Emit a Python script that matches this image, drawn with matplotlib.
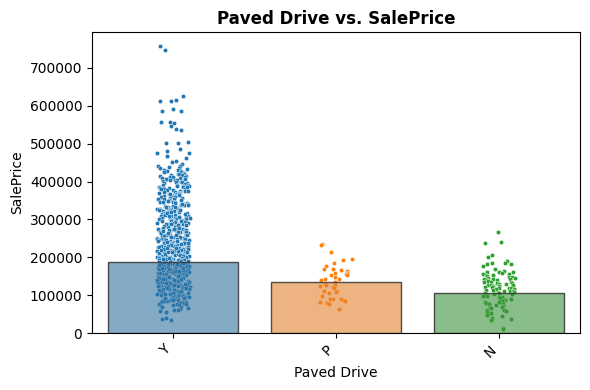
import colorsys
import numpy as np
import matplotlib
matplotlib.use("Agg")
import matplotlib.pyplot as plt
import matplotlib.colors as mcolors

# categories and bar heights (mean SalePrice)
categories = ['Y', 'P', 'N']
bar_means = [187500, 134000, 105700]

# individual sale prices, in thousands
price_y = [
    757, 747, 627, 616, 613, 612, 592, 586, 585, 558, 556, 554, 547, 540, 536,
    504, 503, 502, 487, 481, 476, 475, 468, 467, 462, 455, 452, 446, 441, 440, 439, 437,
    435, 434, 431, 430, 428, 427, 426, 424, 423, 421, 420, 419, 418, 416, 415,
    414, 413, 412, 411, 410, 409, 408, 407, 406, 405, 404, 403, 402, 401, 400,
    399, 398, 396, 395, 394, 392, 391, 390, 389, 388, 387, 386, 385, 384, 383,
    382, 381, 380, 379, 378, 377, 376, 375, 374, 373, 372, 371, 370, 369, 368,
    367, 366, 365, 364, 363, 362, 361, 360, 359, 358, 357, 356, 355, 354, 353,
    352, 351, 350, 385, 367,
    349, 348, 347, 346, 345, 344, 343, 342, 341, 340, 339, 338, 337, 336, 335,
    334, 333, 332, 331, 330, 329, 328, 327, 326, 325, 324, 323, 322, 321, 320,
    319, 318, 317, 316, 315, 314, 313, 312, 311, 310, 309, 308, 307, 306, 305,
    304, 303, 302, 301, 300, 345, 341, 337, 332, 328, 324, 319, 315, 311, 306,
    302, 334, 326, 317, 308,
    299, 298, 297, 296, 295, 294, 293, 292, 291, 290, 289, 288, 287, 286, 285,
    284, 283, 282, 281, 280, 279, 278, 277, 276, 275, 274, 273, 272, 271, 270,
    269, 268, 267, 266, 265, 264, 263, 262, 261, 260, 259, 258, 257, 256, 255,
    254, 253, 252, 251, 250, 298, 295, 292, 289, 286, 283, 280, 277, 274, 271,
    268, 265, 262, 259, 256, 253, 251, 296, 290, 284, 278, 272, 266, 260, 254,
    276, 264, 288, 258, 270,
    249, 248, 247, 246, 245, 244, 243, 242, 241, 240, 239, 238, 237, 236, 235,
    234, 233, 232, 231, 230, 229, 228, 227, 226, 225, 224, 223, 222, 221, 220,
    219, 218, 217, 216, 215, 214, 213, 212, 211, 210, 209, 208, 207, 206, 205,
    204, 203, 202, 201, 200, 248, 246, 243, 241, 238, 236, 233, 231, 228, 226,
    223, 221, 218, 216, 213, 211, 208, 206, 203, 201, 247, 242, 237, 232, 227,
    222, 217, 212, 207, 202, 245, 235, 225, 215, 205, 240, 230, 220, 210, 244,
    234, 224, 214, 204, 239,
    199, 198, 197, 196, 195, 194, 193, 192, 191, 190, 189, 188, 187, 186, 185,
    184, 183, 182, 181, 180, 179, 178, 177, 176, 175, 174, 173, 172, 171, 170,
    169, 168, 167, 166, 165, 164, 163, 162, 161, 160, 159, 158, 157, 156, 155,
    154, 153, 152, 151, 150, 198, 196, 193, 191, 188, 186, 183, 181, 178, 176,
    173, 171, 168, 166, 163, 161, 158, 156, 153, 151, 197, 192, 187, 182, 177,
    172, 167, 162, 157, 152, 195, 185, 175, 165, 155, 190, 180, 170, 160, 194,
    184, 174, 164, 154, 189, 179, 169, 159, 199, 171, 163, 176, 158, 186, 181,
    149, 148, 147, 146, 145, 144, 143, 142, 141, 140, 139, 138, 137, 136, 135,
    134, 133, 132, 131, 130, 129, 128, 127, 126, 125, 124, 123, 122, 121, 120,
    119, 118, 117, 116, 115, 114, 113, 112, 111, 110, 109, 108, 107, 106, 105,
    104, 103, 102, 101, 100, 148, 146, 143, 141, 138, 136, 133, 131, 128, 126,
    123, 121, 118, 116, 113, 111, 108, 106, 103, 101, 147, 142, 137, 132, 127,
    122, 117, 112, 107, 102, 145, 135, 125, 115, 139, 129, 119, 144, 134, 124,
    114, 140, 130, 120, 110,
    99, 98, 97, 96, 95, 94, 93, 92, 91, 90, 89, 88, 87, 86, 85, 84, 83, 82,
    81, 80, 79, 78, 77, 76, 75, 74, 72, 70, 68, 66, 64, 62, 60, 92, 86,
    58, 55, 40, 38, 35,
]
price_p = [235, 232, 215, 196, 194, 185, 178, 170, 168, 167, 163, 159, 158, 155,
           154, 152, 149, 143, 142, 139, 134, 129, 128, 126, 124, 122, 118, 111,
           110, 109, 107, 99, 91, 90, 89, 86, 84, 81, 79, 77, 63]
price_n = [266, 240, 238, 207, 201, 190, 185, 184, 183, 181, 176, 170, 165, 162,
           161, 160, 159, 157, 155, 153, 152, 150, 149, 147, 146, 145, 144, 143,
           142, 140, 139, 138, 137, 136, 135, 134, 133, 131, 130, 129, 128, 127,
           126, 125, 124, 123, 122, 121, 120, 119, 118, 117, 116, 115, 114, 113,
           112, 111, 110, 109, 108, 106, 105, 104, 102, 100, 98, 97, 95, 94, 92,
           90, 88, 87, 85, 83, 82, 80, 78, 76, 75, 72, 70, 68, 65, 62, 60, 57,
           55, 52, 48, 45, 40, 38, 35, 13, 12]

palette = ['#1f77b4', '#ff7f0e', '#2ca02c']


def desaturate(c, prop):
    r, g, b = mcolors.to_rgb(c)
    h, l, s = colorsys.rgb_to_hls(r, g, b)
    return colorsys.hls_to_rgb(h, l, s * prop)


fig, ax = plt.subplots(figsize=(5.9, 3.9), dpi=100)
fig.subplots_adjust(left=0.156, right=0.983, top=0.918, bottom=0.146)

# strip points with horizontal jitter
rng = np.random.default_rng(3)
for i, vals in enumerate([price_y, price_p, price_n]):
    vals = np.asarray(vals) * 1000
    xj = i + rng.uniform(-0.1, 0.1, len(vals))
    ax.scatter(xj, vals, s=10, color=palette[i], edgecolors='white',
               linewidths=0.3, zorder=2)

# translucent mean bars drawn over the points
bar_colors = [desaturate(c, 0.75) + (0.6,) for c in palette]
ax.bar(range(len(categories)), bar_means, width=0.8, color=bar_colors,
       edgecolor=(0.2, 0.2, 0.2, 0.85), linewidth=1.0, zorder=3)

ax.set_xticks(range(len(categories)))
ax.set_xticklabels(categories, rotation=45, ha='right')
ax.set_xlim(-0.5, 2.5)
ax.set_title('Paved Drive vs. SalePrice', fontweight='bold')
ax.set_xlabel('Paved Drive')
ax.set_ylabel('SalePrice')

fig.savefig('out.png', dpi=100)
